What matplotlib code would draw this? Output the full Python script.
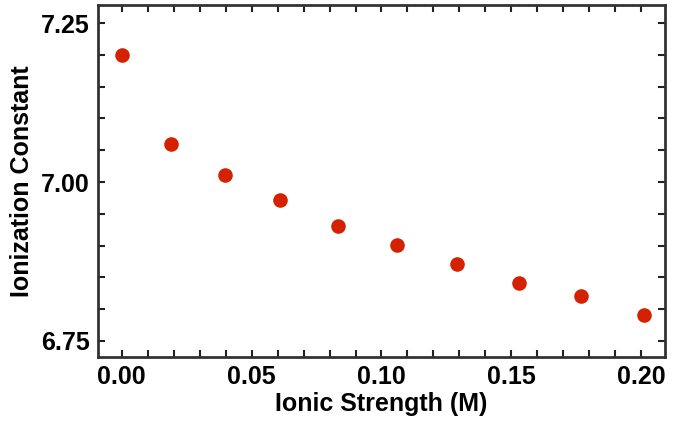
import matplotlib
matplotlib.use("Agg")
import matplotlib.pyplot as plt
from matplotlib.ticker import MultipleLocator, FormatStrFormatter

ionic_strength = [0.0, 0.019, 0.0398, 0.0611, 0.0833, 0.1059, 0.1290, 0.1528, 0.1768, 0.2012]
ionization_constant = [7.200, 7.060, 7.011, 6.971, 6.931, 6.901, 6.871, 6.841, 6.821, 6.791]

plt.rcParams['font.family'] = ['Liberation Sans', 'DejaVu Sans']

fig = plt.figure(figsize=(6.73, 4.21), dpi=100)
ax = fig.add_axes([0.1456, 0.152, 0.8424, 0.836])

ax.plot(ionic_strength, ionization_constant, linestyle='none', marker='o',
        markersize=10.5, color='#d42200', markeredgewidth=0)

ax.set_xlim(-0.00913, 0.2091)
ax.set_ylim(6.7248, 7.2783)

ax.xaxis.set_major_locator(MultipleLocator(0.05))
ax.xaxis.set_minor_locator(MultipleLocator(0.01))
ax.yaxis.set_major_locator(MultipleLocator(0.25))
ax.yaxis.set_minor_locator(MultipleLocator(0.05))
ax.xaxis.set_major_formatter(FormatStrFormatter('%.2f'))
ax.yaxis.set_major_formatter(FormatStrFormatter('%.2f'))

for which in ('major', 'minor'):
    ax.tick_params(axis='both', which=which, direction='in', length=5, width=1.5,
                   color='#222222', top=True, right=True)
ax.tick_params(axis='both', which='major', labelsize=18, pad=6)
for lab in ax.get_xticklabels() + ax.get_yticklabels():
    lab.set_fontweight('bold')

for sp in ax.spines.values():
    sp.set_linewidth(2)
    sp.set_color('#333333')

ax.set_xlabel('Ionic Strength (M)', fontsize=18, fontweight='bold', labelpad=2)
ax.set_ylabel('Ionization Constant', fontsize=18, fontweight='bold', labelpad=5)

fig.savefig('out.png', dpi=100)
